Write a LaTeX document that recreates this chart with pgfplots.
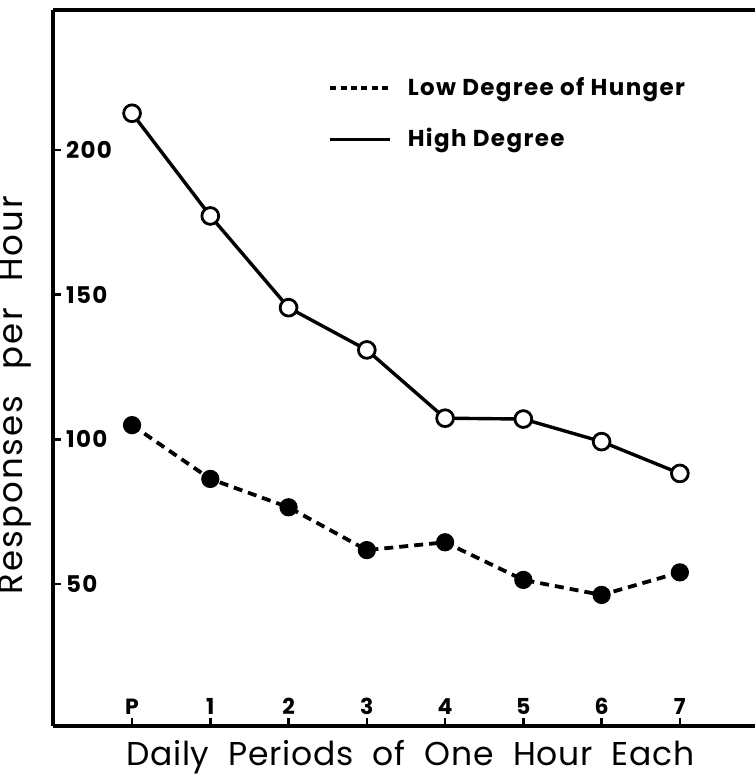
\documentclass[border=0pt]{standalone}
\usepackage{pgfplots}
\pgfplotsset{compat=1.18}
\usepackage{fontspec}
\setmainfont{Poppins}
\begin{document}
\begin{tikzpicture}
\begin{axis}[
  scale only axis, width=351pt, height=358pt,
  xmin=-1.01, xmax=7.96, ymin=0.9, ymax=248.4,
  axis x line=box, axis y line=left,
  axis line style={-, line width=1.8pt, black},
  xtick={0,1,2,3,4,5,6,7}, xticklabels={P,1,2,3,4,5,6,7},
  ytick={50,100,150,200},
  xtick pos=left, ytick pos=left,
  tick align=inside, major tick length=4pt,
  tick style={line width=1.2pt, black},
  /pgf/number format/assume math mode=true,
  xticklabel style={anchor=south, yshift=2pt, font=\bfseries\fontsize{11}{13}\selectfont},
  yticklabel style={anchor=west, xshift=3pt, font=\bfseries\fontsize{11.5}{13}\selectfont\addfontfeature{LetterSpace=6}},
  xlabel={Daily\hspace{0.3em} Periods\hspace{0.3em} of\hspace{0.3em} One\hspace{0.3em} Hour\hspace{0.3em} Each},
  ylabel={Responses\hspace{0.45em} per\hspace{0.45em} Hour},
  xlabel style={at={(axis description cs:0.509,-0.0433)}, anchor=center, font=\fontsize{16.5}{19}\selectfont\addfontfeature{LetterSpace=2}},
  ylabel style={at={(axis description cs:-0.0537,0.462)}, anchor=center, font=\fontsize{17}{19}\selectfont\addfontfeature{LetterSpace=6}},
  legend style={draw=none, fill=none, at={(axis description cs:0.392,0.912)}, anchor=north west,
    row sep=11pt, font=\bfseries\fontsize{11.5}{13}\selectfont\addfontfeature{LetterSpace=6}, inner sep=0pt,
    nodes={inner xsep=8pt}},
  legend cell align=left,
  legend image code/.code={\draw[#1] (0pt,0pt) -- (30pt,0pt);},
]
\addlegendimage{line width=1.6pt, dash pattern=on 3pt off 2.2pt}
\addlegendentry{Low Degree of Hunger}
\addlegendimage{line width=1.6pt}
\addlegendentry{High Degree}
\addplot[forget plot, black, line width=1.7pt, mark=*, mark size=4.2pt,
  mark options={solid, fill=white, line width=1.4pt}]
  coordinates {(0,212.7) (1,177.2) (2,145.5) (3,130.9) (4,107.3) (5,107.0) (6,99.2) (7,88.2)};
\addplot[forget plot, black, line width=1.9pt, dash pattern=on 4.5pt off 3pt, mark=*, mark size=3.6pt,
  mark options={solid, fill=black}]
  coordinates {(0,104.9) (1,86.3) (2,76.5) (3,61.7) (4,64.4) (5,51.4) (6,46.2) (7,54.0)};
\end{axis}
\pgfresetboundingbox
\path ([xshift=-26.5pt,yshift=-26pt]current axis.south west) rectangle ([yshift=5pt]current axis.north east);
\end{tikzpicture}
\end{document}
